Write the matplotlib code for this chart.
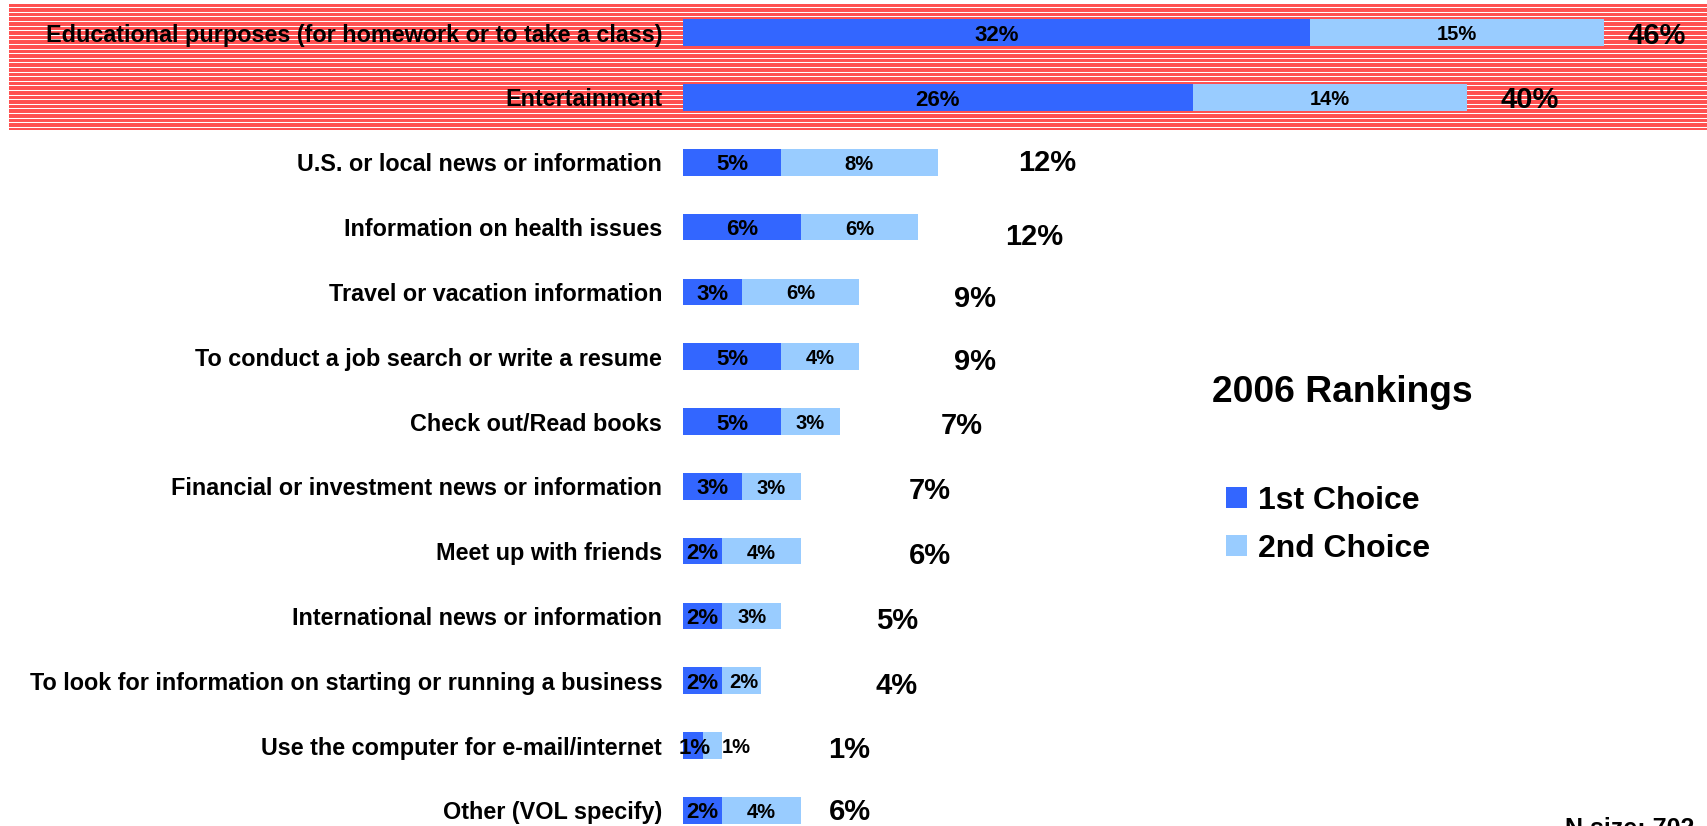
import matplotlib.pyplot as plt
from matplotlib.patches import Rectangle
import numpy as np

plt.rcParams['font.family'] = ['Liberation Sans', 'DejaVu Sans']
plt.rcParams['font.weight'] = 'bold'

categories = [
    "Educational purposes (for homework or to take a class)",
    "Entertainment",
    "U.S. or local news or information",
    "Information on health issues",
    "Travel or vacation information",
    "To conduct a job search or write a resume",
    "Check out/Read books",
    "Financial or investment news or information",
    "Meet up with friends",
    "International news or information",
    "To look for information on starting or running a business",
    "Use the computer for e-mail/internet",
    "Other (VOL specify)",
]
first_choice = [32, 26, 5, 6, 3, 5, 5, 3, 2, 2, 2, 1, 2]
second_choice = [15, 14, 8, 6, 6, 4, 3, 3, 4, 3, 2, 1, 4]
totals = [46, 40, 12, 12, 9, 9, 7, 7, 6, 5, 4, 1, 6]

# where the total labels sit (in % units on the bar axis)
total_label_x = [49.7, 43.2, 18.6, 17.9, 14.9, 14.9, 14.2, 12.6, 12.6, 10.9, 10.9, 8.5, 8.5]
total_label_dy = [0, 0, -0.03, 0.1, 0.07, 0.03, 0.03, 0.03, 0.03, 0.03, 0.03, 0.03, -0.02]

dark = "#3366FF"
light = "#99CCFF"

fig = plt.figure(figsize=(17.07, 8.26), dpi=100)

# red striped highlight behind the top two rows
bg = fig.add_axes([9 / 1707, 1 - 130 / 826, 1 - 9 / 1707, 126 / 826], zorder=0)
bg.set_xlim(0, 1)
bg.set_ylim(126, 0)
bg.axis("off")
bg.add_patch(Rectangle((0, 0), 1, 126, facecolor="#FF5050", edgecolor="none"))
for yy in np.arange(3.2, 126, 4.6):
    bg.axhline(yy, color="white", lw=0.75)

ax = fig.add_axes([683 / 1707, 0, 1 - 683 / 1707, 1], zorder=1)
ax.patch.set_alpha(0)
y = np.arange(len(categories))
h = 0.41
ax.barh(y, first_choice, height=h, color=dark, label="1st Choice")
ax.barh(y, second_choice, left=first_choice, height=h, color=light, label="2nd Choice")
ax.set_xlim(0, 1024 / 19.6)
ax.set_ylim((826 - 32.7) / 64.8, -32.7 / 64.8)

ax.set_yticks(y)
ax.set_yticklabels(categories, fontsize=16.8, fontweight="bold")
ax.tick_params(axis="y", length=0, pad=15)
ax.set_xticks([])
for s in ax.spines.values():
    s.set_visible(False)

for i in range(len(categories)):
    f, s = first_choice[i], second_choice[i]
    fx = max(f / 2, 0.6)
    ax.text(fx, i, f"{f}%", ha="center", va="center_baseline", fontsize=16, fontweight="bold")
    sx = max(f + s / 2, fx + 2.1)
    ax.text(sx, i, f"{s}%", ha="center", va="center_baseline", fontsize=14.5, fontweight="bold")
    ax.text(total_label_x[i], i + total_label_dy[i], f"{totals[i]}%", ha="center",
            va="center_baseline", fontsize=21, fontweight="bold")

fig.text(1212 / 1707, 1 - 389 / 826, "2006 Rankings", fontsize=26.8, fontweight="bold",
         ha="left", va="center_baseline")
leg = fig.legend(loc="upper left", bbox_to_anchor=(1210 / 1707, 1 - 470 / 826), frameon=False,
                 prop={"weight": "bold", "size": 23}, handlelength=0.65,
                 handleheight=0.65, handletextpad=0.35, labelspacing=0.55, borderpad=0)

fig.text(1565 / 1707, 1 - 817 / 826, "N size: 702", fontsize=18, fontweight="bold",
         ha="left", va="top")

fig.savefig("out.png", dpi=100)
